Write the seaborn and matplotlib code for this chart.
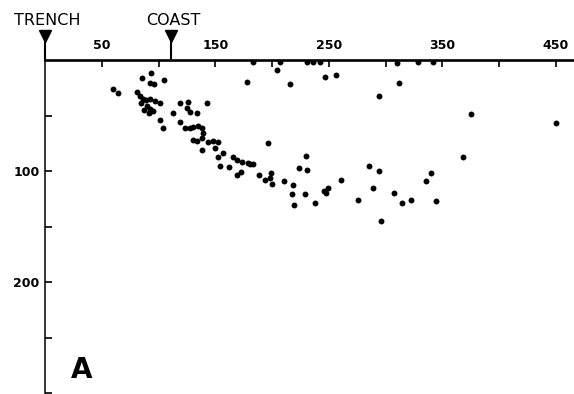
import seaborn as sns
import pandas as pd
import matplotlib.pyplot as plt

# Hypocentres: distance from trench (km) and focal depth (km)
distance_km = [
    183.3, 207.0, 230.8, 236.1, 242.3, 310.1, 328.6, 341.9, 204.4, 178.0,
    215.9, 246.7, 256.4, 294.3, 311.9, 375.3, 450.2,
    93.4, 85.5, 92.5, 96.0, 104.8, 59.9, 64.3,
    81.1, 83.7, 86.3, 84.6, 89.0, 92.5, 96.9, 101.3, 89.9, 92.5, 95.2, 87.2, 91.6,
    101.3, 104.0,
    112.8, 118.9, 126.0, 125.1, 127.8, 133.9, 142.7,
    118.9, 123.3, 127.8, 130.4, 134.8, 138.3, 139.2,
    130.4, 133.9, 138.3, 143.6, 148.0, 152.4,
    138.3, 149.8, 152.4, 156.8,
    165.6, 169.2, 173.6, 178.9, 154.2, 162.1, 172.7, 169.2, 180.6, 183.3,
    196.5, 230.0, 223.8, 230.8, 188.5, 199.1, 198.2, 193.8, 200.0, 210.6, 218.5,
    217.6, 229.1, 245.8, 247.6, 249.3, 237.9, 219.4,
    260.8, 285.5, 294.3, 289.0, 275.8, 296.0,
    307.5, 314.5, 322.5, 344.5, 340.1, 335.7, 368.3,
]
depth_km = [
    1.8, 1.8, 1.8, 1.8, 1.8, 2.7, 1.8, 1.8, 9.0, 19.8,
    21.6, 15.3, 13.5, 32.4, 20.7, 48.6, 56.8,
    11.7, 16.2, 20.7, 21.6, 18.0, 26.1, 29.7,
    28.8, 32.4, 35.1, 38.7, 36.0, 35.1, 36.9, 38.7, 41.4, 44.1, 45.9, 45.0, 47.7,
    54.1, 61.3,
    47.7, 38.7, 37.8, 43.2, 46.8, 47.7, 38.7,
    55.9, 61.3, 61.3, 60.4, 59.5, 61.3, 65.8,
    72.1, 73.0, 70.3, 73.9, 73.0, 73.9,
    81.1, 79.3, 87.4, 83.8,
    87.4, 90.1, 91.9, 92.8, 95.5, 96.4, 100.9, 103.6, 93.7, 93.7,
    74.8, 86.5, 97.3, 99.1, 103.6, 101.8, 106.3, 108.1, 111.7, 109.0, 112.6,
    120.7, 120.7, 118.0, 119.8, 115.3, 128.8, 130.6,
    108.1, 95.5, 100.0, 115.3, 126.1, 145.0,
    119.8, 128.8, 126.1, 127.0, 101.8, 109.0, 87.4,
]

x_ticks = [50, 100, 150, 200, 250, 300, 350, 400, 450]
x_labels = ['50', '', '150', '', '250', '', '350', '', '450']
y_ticks = [50, 100, 150, 200, 250, 300]
y_labels = ['', '100', '', '200', '', '']

trench_x = 0
coast_x = 111

df = pd.DataFrame({'distance': distance_km, 'depth': depth_km})

sns.set_style('white')
plt.rcParams['font.family'] = ['DejaVu Sans']
plt.rcParams['text.color'] = 'black'
plt.rcParams['xtick.color'] = 'black'
plt.rcParams['ytick.color'] = 'black'

fig = plt.figure(figsize=(5.74, 3.94), dpi=100)
ax = fig.add_axes([0.0784, 0.0025, 0.9216, 0.8452])

sns.scatterplot(data=df, x='distance', y='depth', color='black', s=18,
                linewidth=0, ax=ax, legend=False)

ax.set_xlim(0, 466)
ax.set_ylim(300, 0)

for side in ['right', 'bottom']:
    ax.spines[side].set_visible(False)
ax.spines['top'].set_linewidth(1.9)
ax.spines['left'].set_linewidth(1.1)
ax.spines['top'].set_color('black')
ax.spines['left'].set_color('black')

ax.xaxis.tick_top()
ax.set_xticks(x_ticks)
ax.set_xticklabels(x_labels, fontsize=9, fontweight='bold')
ax.set_yticks(y_ticks)
ax.set_yticklabels(y_labels, fontsize=9, fontweight='bold')
ax.tick_params(axis='x', direction='in', length=5, width=1.2, pad=6, top=True, bottom=False)
ax.tick_params(axis='y', direction='in', length=5, width=1.2, pad=4, left=True)
ax.set_xlabel('')
ax.set_ylabel('')

# trench / coast markers above the axis
for xpos, name in [(trench_x, 'TRENCH'), (coast_x, 'COAST')]:
    ax.plot([xpos, xpos], [-22, 0], color='black', lw=1.5, clip_on=False)
    ax.plot([xpos], [-22], marker='v', markersize=8, color='black', clip_on=False)
    ax.text(xpos + 2, -36, name, ha='center', va='center', fontsize=11.5)

ax.text(32, 279, 'A', ha='center', va='center', fontsize=20, fontweight='bold')

fig.savefig('out.png', dpi=100)
